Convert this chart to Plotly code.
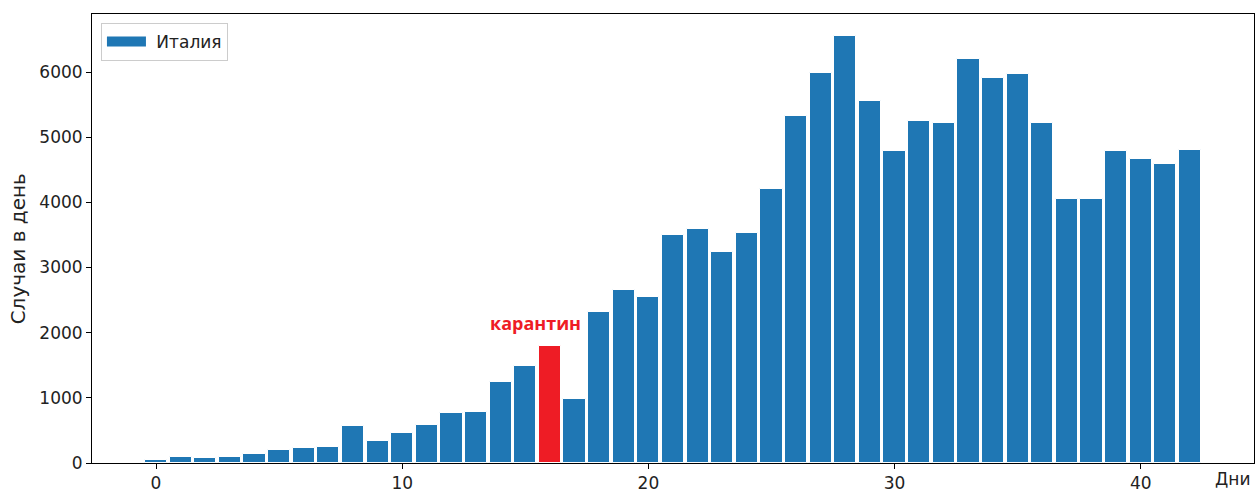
import plotly.graph_objects as go

days = list(range(43))
cases = [42, 93, 74, 93, 131, 202, 233, 240, 566, 342, 466, 587, 769, 778, 1247, 1492,
         1797, 977, 2313, 2651, 2547, 3497, 3590, 3233, 3526, 4207, 5322, 5986, 6557, 5560,
         4789, 5249, 5210, 6203, 5909, 5974, 5217, 4050, 4053, 4782, 4668, 4585, 4805]
quarantine_day = 16
series_name = "Италия"
annotation_text = "карантин"
x_ticks = [0, 10, 20, 30, 40]
y_ticks = [0, 1000, 2000, 3000, 4000, 5000, 6000]

BLUE = "#1f77b4"
RED = "#ee1c25"
FONT = "DejaVu Sans"
colors = [RED if d == quarantine_day else BLUE for d in days]

fig = go.Figure()
fig.add_trace(go.Bar(
    x=days, y=cases, name=series_name, width=0.9,
    marker=dict(color=colors, line=dict(color="white", width=1)),
    showlegend=False,
))
# legend entry with a wide rectangular swatch (matplotlib style)
fig.add_trace(go.Scatter(
    x=[None], y=[None], mode="lines", name="\u00a0" + series_name,
    line=dict(color=BLUE, width=11), showlegend=True, hoverinfo="skip",
))

fig.add_annotation(
    x=quarantine_day - 0.6, y=2150, text=annotation_text,
    showarrow=False, xanchor="center", yanchor="middle",
    font=dict(family="Open Sans", size=18, color=RED, weight="bold"),
)
fig.add_annotation(
    xref="paper", yref="paper", x=0.9985, y=-0.01, text="Дни", showarrow=False,
    xanchor="right", yanchor="top", font=dict(family=FONT, size=17, color="#222"),
)
fig.add_annotation(
    xref="paper", yref="paper", x=-0.0641, y=0.477, text="Случаи в день", showarrow=False,
    xanchor="center", yanchor="middle", textangle=-90,
    font=dict(family=FONT, size=20, color="#222"),
)

axis_common = dict(
    showline=True, linecolor="black", linewidth=1, mirror=True,
    ticks="outside", ticklen=5, tickcolor="black", tickwidth=1,
    showgrid=False, zeroline=False, automargin=False,
    tickfont=dict(family=FONT, size=17, color="#222"),
)

fig.update_layout(
    width=1260, height=493,
    margin=dict(l=92, r=6, t=14, b=30),
    plot_bgcolor="white", paper_bgcolor="white",
    bargap=0,
    xaxis=dict(range=[-2.6, 44.6], tickvals=x_ticks, **axis_common),
    yaxis=dict(range=[0, 6890], tickvals=y_ticks, **axis_common),
    legend=dict(x=0.0077, y=0.98, xanchor="left", yanchor="top",
                bordercolor="#cccccc", borderwidth=1, bgcolor="white",
                itemwidth=39,
                font=dict(family=FONT, size=17, color="#222")),
)

fig.write_html("out.html")
